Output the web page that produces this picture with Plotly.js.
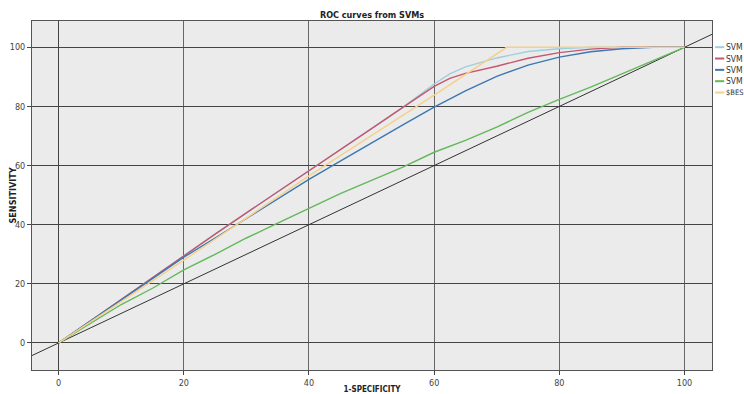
<!DOCTYPE html>
<html><head><meta charset="utf-8">
<script src="https://cdn.plot.ly/plotly-3.0.1.min.js"></script>
<style>html,body{margin:0;padding:0;overflow:hidden;background:#fff}#c{width:744px;height:394px}</style>
</head><body><div id="c"></div>
<script>
// 1-specificity (x) and sensitivity (y) values, in %
var svm1X = [0,5,10,15,20,25,30,35,40,45,50,55,58,60,62.5,65,70,75,80,85,90,100];
var svm1Y = [0,7.4,14.8,22.2,29.5,36.8,44,51.2,58.4,65.5,72.5,79.7,84.3,87.6,91,93.4,96.4,98.6,99.5,100,100,100];
var svm2X = [0,5,10,15,20,25,30,35,40,45,50,55,58,60,62.5,65,70,75,80,85,90,100];
var svm2Y = [0,7.4,14.8,22.2,29.5,36.8,44,51.2,58.4,65.5,72.5,79.7,84,86.8,89.5,91.2,93.6,96.3,98.2,99.4,100,100];
var svm3X = [0,5,10,15,20,25,30,35,40,45,50,55,60,65,70,75,80,85,90,95,100];
var svm3Y = [0,7.3,14.6,22,29,35.5,42,48.7,55.3,61.5,67.7,73.8,79.8,85.3,90.2,94,96.7,98.5,99.5,100,100];
var svm4X = [0,5,10,15,20,25,30,35,40,45,50,55,60,65,70,75,80,85,90,95,100];
var svm4Y = [0,6.5,13,18.5,24.7,30,35.5,40.5,45.6,50.5,55,59.5,64.5,68.5,73,78,82.4,86.5,91,95.5,100];
var bestX = [0,20,40,60,71.6,80,90,100];
var bestY = [0,28,56.5,83.8,100,100,100,100];
var refX = [-10,110];
var refY = [-10,110];
var names = ['SVM','SVM','SVM','SVM','$BES'];
var colors = ['#9fcfdc','#c4566f','#3b77b3','#63b85b','#f6d08a'];
var xTicks = [0,20,40,60,80,100];
var yTicks = [0,20,40,60,80,100];

var series = [[svm1X,svm1Y],[svm2X,svm2Y],[svm3X,svm3Y],[svm4X,svm4Y],[bestX,bestY]];
var data = [{x:refX,y:refY,mode:'lines',line:{color:'#333',width:1},showlegend:false,hoverinfo:'skip'}];
series.forEach(function(s,i){
  data.push({x:s[0],y:s[1],mode:'lines',name:names[i],line:{color:colors[i],width:1.4},showlegend:false});
});

var shapes=[], annotations=[];
var legTop = 0.925, legStep = 0.0325;
names.forEach(function(n,i){
  var yy = legTop - i*legStep;
  shapes.push({type:'line',xref:'paper',yref:'paper',x0:1.0045,x1:1.018,y0:yy,y1:yy,line:{color:colors[i],width:2}});
  annotations.push({xref:'paper',yref:'paper',x:1.0185,y:yy,xanchor:'left',yanchor:'middle',showarrow:false,text:n,borderpad:0,
    font:{family:'Liberation Sans Narrow, DejaVu Sans Condensed, sans-serif',size:(n.length>3?7.5:8.5),color:'#333'}});
});
annotations.push({xref:'paper',yref:'paper',x:-0.0294,y:0.5,xanchor:'center',yanchor:'middle',showarrow:false,textangle:-90,
  text:'<b>SENSITIVITY</b>',font:{family:'DejaVu Sans Condensed, sans-serif',size:9,color:'#222'}});

var axisFont = {family:'DejaVu Sans Condensed, Liberation Sans Narrow, sans-serif',size:9,color:'#444'};
var layout = {
  width:744,height:394,
  margin:{l:32,r:32,t:21,b:24},
  paper_bgcolor:'#fff',plot_bgcolor:'#ebebeb',
  title:{text:'<b>ROC curves from SVMs</b>',x:0.5,xref:'paper',y:0.963,yanchor:'middle',font:{family:'DejaVu Sans Condensed, sans-serif',size:9,color:'#222'}},
  xaxis:{range:[-4.26,104.4],tickvals:xTicks,ticktext:xTicks.map(String),ticks:'outside',ticklen:4,tickcolor:'#444',
    showgrid:true,gridcolor:'#666',gridwidth:1,zeroline:true,zerolinecolor:'#444',zerolinewidth:1,
    showline:true,mirror:true,linecolor:'#555',linewidth:1,tickfont:axisFont,
    title:{text:'<b>1-SPECIFICITY</b>',standoff:2,font:{family:'DejaVu Sans Condensed, sans-serif',size:8,color:'#222'}}},
  yaxis:{range:[-9.15,108.9],tickvals:yTicks,ticktext:yTicks.map(String),ticks:'outside',ticklen:4,tickcolor:'#444',
    showgrid:true,gridcolor:'#444',gridwidth:1,zeroline:true,zerolinecolor:'#444',zerolinewidth:1,
    showline:true,mirror:true,linecolor:'#555',linewidth:1,tickfont:axisFont},
  shapes:shapes,annotations:annotations,showlegend:false
};
Plotly.newPlot('c',data,layout,{displayModeBar:false,staticPlot:true});
</script></body></html>
